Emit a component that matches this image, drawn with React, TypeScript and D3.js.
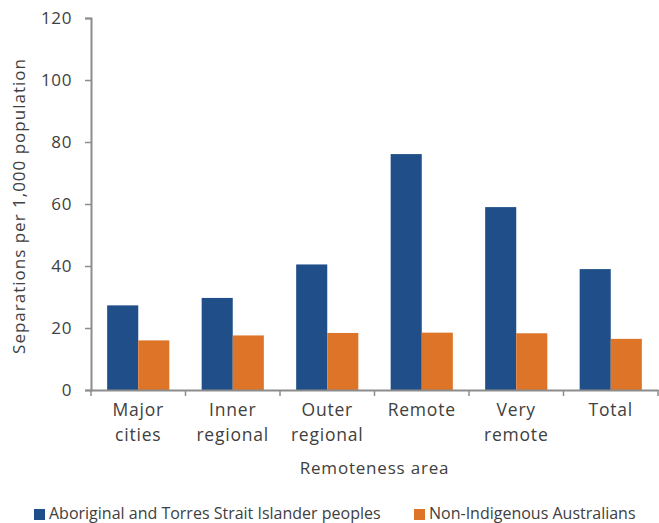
import * as d3 from "d3";
import { useEffect, useRef } from "react";

const categories = [["Major", "cities"], ["Inner", "regional"], ["Outer", "regional"], ["Remote"], ["Very", "remote"], ["Total"]];
const seriesNames = ["Aboriginal and Torres Strait Islander peoples", "Non-Indigenous Australians"];
const indigenous = [27.3, 29.7, 40.5, 76.1, 59.0, 39.0];
const nonIndigenous = [16.0, 17.6, 18.4, 18.5, 18.3, 16.5];
const yTicks = [0, 20, 40, 60, 80, 100, 120];
const colors = ["#1F4E88", "#DE7428"];

export default function App() {
  const svgRef = useRef<SVGSVGElement | null>(null);

  useEffect(() => {
    if (!svgRef.current) return;
    const svg = d3.select(svgRef.current);
    svg.selectAll("*").remove();

    const width = 659;
    const height = 523;
    const margin = { top: 18, right: 1, bottom: 133, left: 91 };
    const font = "'Open Sans', 'DejaVu Sans', sans-serif";
    const textColor = "#404040";
    const axisColor = "#8C8C8C";

    const keys = categories.map((c) => c.join(" "));
    const x = d3.scaleBand().domain(keys).range([margin.left, width - margin.right]).paddingInner(0).paddingOuter(0);
    const inner = d3.scaleBand().domain(["0", "1"]).range([0, x.bandwidth()]).paddingInner(0).paddingOuter(0.52);
    const y = d3.scaleLinear().domain([0, 120]).range([height - margin.bottom, margin.top]);

    const rows = keys.map((k, i) => ({ key: k, values: [indigenous[i], nonIndigenous[i]] }));

    const g = svg.append("g");
    g.selectAll("g.cat")
      .data(rows)
      .join("g")
      .attr("transform", (d) => `translate(${x(d.key)},0)`)
      .selectAll("rect")
      .data((d) => d.values.map((v, j) => ({ v, j })))
      .join("rect")
      .attr("x", (d) => inner(String(d.j))!)
      .attr("width", inner.bandwidth())
      .attr("y", (d) => y(d.v))
      .attr("height", (d) => y(0) - y(d.v))
      .attr("fill", (d) => colors[d.j]);

    // y axis
    const yAxis = d3.axisLeft(y).tickValues(yTicks).tickSize(6).tickPadding(13);
    const yg = svg.append("g").attr("transform", `translate(${margin.left},0)`).call(yAxis as any);
    yg.selectAll("path").attr("stroke", axisColor).attr("stroke-width", 2);
    yg.selectAll("line").attr("stroke", axisColor).attr("stroke-width", 1.5);
    yg.selectAll("text")
      .attr("fill", textColor)
      .attr("font-size", 17)
      .attr("letter-spacing", 0.6)
      .attr("font-family", font);

    // x axis
    const xAxis = d3.axisBottom(x).tickSize(0).tickFormat(() => "");
    const xg = svg.append("g").attr("transform", `translate(0,${y(0)})`).call(xAxis as any);
    xg.selectAll("path").attr("stroke", axisColor).attr("stroke-width", 2);
    const bounds = keys.map((k) => x(k)!).concat([x(keys[keys.length - 1])! + x.bandwidth()]);
    xg.selectAll("line.sep")
      .data(bounds)
      .join("line")
      .attr("class", "sep")
      .attr("x1", (d) => d)
      .attr("x2", (d) => d)
      .attr("y1", 0)
      .attr("y2", 6)
      .attr("stroke", axisColor)
      .attr("stroke-width", 1.5);

    const labels = svg.append("g");
    categories.forEach((lines, i) => {
      const cx = x(keys[i])! + x.bandwidth() / 2;
      const t = labels
        .append("text")
        .attr("text-anchor", "middle")
        .attr("font-family", font)
        .attr("font-size", 17.5)
        .attr("letter-spacing", 0.8)
        .attr("fill", textColor);
      lines.forEach((l, j) => {
        t.append("tspan").attr("x", cx).attr("y", y(0) + 26 + j * 25).text(l);
      });
    });

    svg
      .append("text")
      .attr("x", (margin.left + width - margin.right) / 2)
      .attr("y", 474)
      .attr("text-anchor", "middle")
      .attr("font-family", font)
      .attr("font-size", 17)
      .attr("letter-spacing", 0.8)
      .attr("fill", textColor)
      .text("Remoteness area");

    svg
      .append("text")
      .attr("transform", `translate(25,${(y(0) + y(120)) / 2 + 2}) rotate(-90)`)
      .attr("text-anchor", "middle")
      .attr("font-family", font)
      .attr("font-size", 17)
      .attr("letter-spacing", 1)
      .attr("fill", textColor)
      .text("Separations per 1,000 population");

    // legend
    const legendX = [34, 414];
    const lg = svg.append("g");
    seriesNames.forEach((name, i) => {
      lg.append("rect").attr("x", legendX[i]).attr("y", 509).attr("width", 11).attr("height", 11).attr("fill", colors[i]);
      lg.append("text")
        .attr("x", legendX[i] + 15)
        .attr("y", 519)
        .attr("font-family", font)
        .attr("font-size", 16)
        .attr("fill", textColor)
        .text(name);
    });
  }, []);

  return (
    <svg
      ref={svgRef}
      width={659}
      height={523}
      style={{ position: "absolute", left: 0, top: 0, background: "#fff" }}
    />
  );
}
